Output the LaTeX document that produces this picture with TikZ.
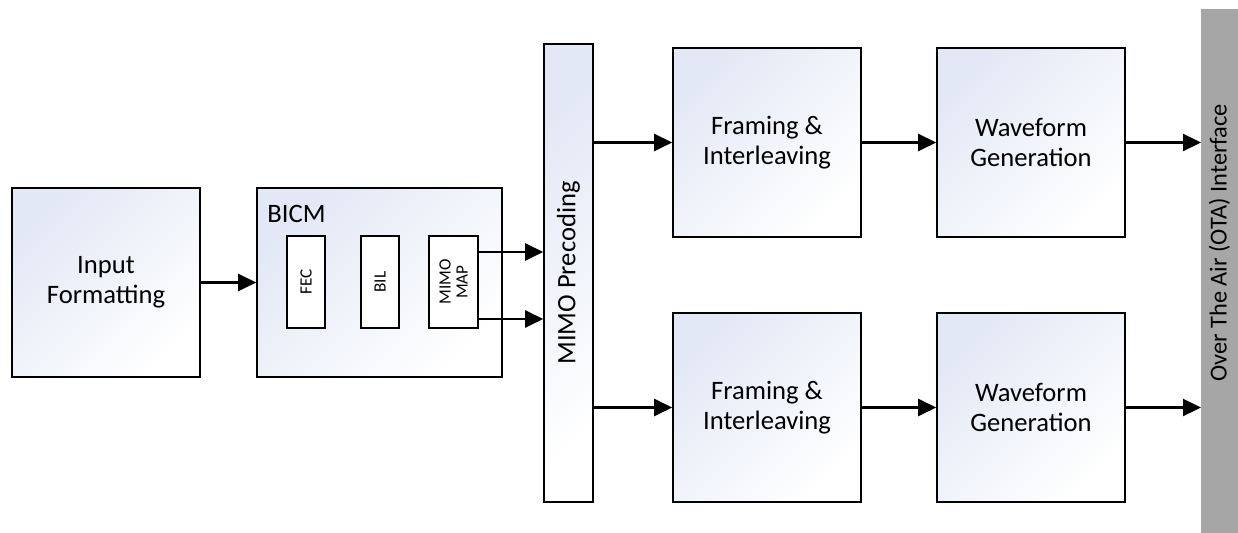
\documentclass[tikz,border=0pt]{standalone}
\usepackage{fontspec}
\setmainfont{Carlito}
\usetikzlibrary{arrows.meta}
\definecolor{blockTint}{HTML}{E2E8F5}
\definecolor{otaGray}{HTML}{A6A6A6}

\begin{document}
\begin{tikzpicture}[
  x=0.5pt, y=-0.5pt,
  line cap=butt, line join=miter,
  >={Triangle[length=9pt,width=8.5pt]},
  block/.style={draw=black, line width=.8pt, top color=blockTint,
    bottom color=white, shading angle=45, inner sep=0pt,
    align=center, font=\fontsize{13.3}{15}\selectfont},
  big block/.style={block, minimum width=94pt, minimum height=94.5pt},
  sub block/.style={draw=black, line width=.8pt, fill=white, inner sep=0pt,
    minimum width=19pt, minimum height=46pt, align=center,
    font=\fontsize{8.6}{9}\selectfont},
  flow/.style={draw=black, line width=1.15pt, ->}
]
\useasboundingbox (0,0) rectangle (1238,533);

% Left: input formatting and the BICM chain.
\node[big block] (inp) at (106,282.5) {Input\\Formatting};
\node[block, minimum width=122.5pt, minimum height=94.5pt] (bicm)
  at (379.5,282.5) {};
\node[anchor=base west, inner sep=0pt, font=\fontsize{13.3}{15}\selectfont]
  (bicmlabel) at (267,223) {BICM};
\node[sub block] (fec) at (306,282) {\rotatebox{90}{FEC}};
\node[sub block] (bil) at (380,282) {\rotatebox{90}{BIL}};
\node[sub block, minimum width=24.5pt] (map) at (453.5,282)
  {\rotatebox{90}{\shortstack{MIMO\\MAP}}};

% Middle: the tall precoding stage.
\node[block, minimum width=24.5pt, minimum height=229pt] (pre)
  at (568.5,273) {\rotatebox{90}{MIMO Precoding}};

% Right: two parallel framing / waveform branches.
\node[big block] (frtop) at (767,142.5) {Framing \&\\Interleaving};
\node[big block] (frbot) at (767,407.5) {Framing \&\\Interleaving};
\node[big block] (wftop) at (1031,142.5) {Waveform\\Generation};
\node[big block] (wfbot) at (1031,407.5) {Waveform\\Generation};

% Air interface bar, running off the bottom edge.
\fill[otaGray] (1201,9) rectangle (1238,533);
\node[rotate=90, inner sep=0pt, font=\fontsize{12.2}{14}\selectfont] (ota)
  at (1219.5,243) {Over The Air (OTA) Interface};
\coordinate (otaedge) at (1201,271);

\draw[flow] (inp.east) -- (bicm.west);
\draw[flow] ([yshift=15pt]map.east) -- ([yshift=15pt]map.east -| pre.west);
\draw[flow] ([yshift=-18.5pt]map.east) -- ([yshift=-18.5pt]map.east -| pre.west);
\draw[flow] (pre.east |- frtop.west) -- (frtop.west);
\draw[flow] (pre.east |- frbot.west) -- (frbot.west);
\draw[flow] (frtop.east) -- (wftop.west);
\draw[flow] (frbot.east) -- (wfbot.west);
\draw[flow] (wftop.east) -- (wftop.east -| otaedge);
\draw[flow] (wfbot.east) -- (wfbot.east -| otaedge);
\end{tikzpicture}
\end{document}
